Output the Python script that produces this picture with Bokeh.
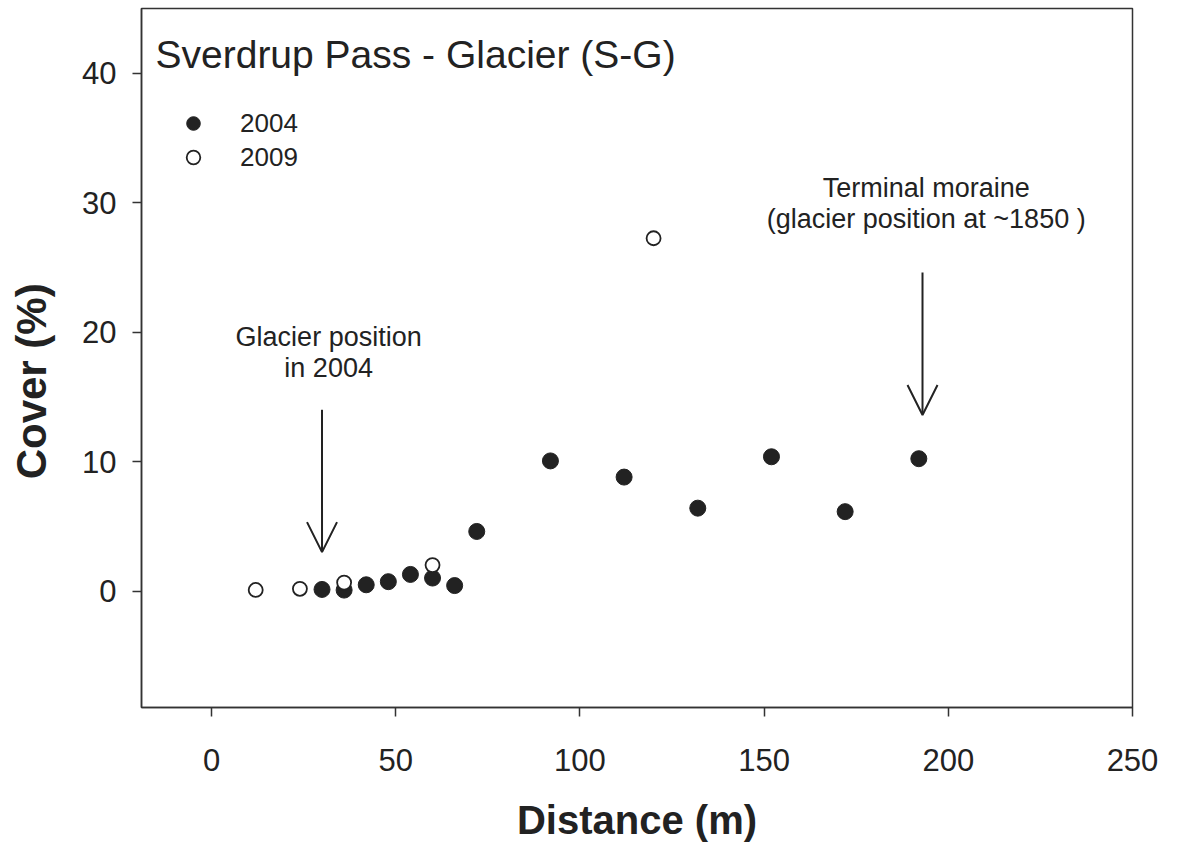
from bokeh.plotting import figure
from bokeh.models import Range1d, FixedTicker, Legend, LegendItem, Label, Arrow, OpenHead, ColumnDataSource
from bokeh.embed import file_html
from bokeh.resources import INLINE

# ---- data ----
dist_2004 = [30, 36, 42, 48, 54, 60, 66, 72, 92, 112, 132, 152, 172, 192]
cover_2004 = [0.12, 0.07, 0.48, 0.72, 1.28, 1.0, 0.42, 4.6, 10.05, 8.8, 6.4, 10.37, 6.13, 10.22]
dist_2009 = [12, 24, 36, 60, 120]
cover_2009 = [0.08, 0.17, 0.65, 2.0, 27.25]

x_ticks = [0, 50, 100, 150, 200, 250]
y_ticks = [0, 10, 20, 30, 40]

title_text = "Sverdrup Pass - Glacier (S-G)"
x_label = "Distance (m)"
y_label = "Cover (%)"
glacier_lines = ["Glacier position", "in 2004"]
moraine_lines = ["Terminal moraine", "(glacier position at ~1850 )"]

# annotation anchors (data units)
glacier_arrow = dict(x=30, y_start=14.0, y_end=3.0)
moraine_arrow = dict(x=193, y_start=24.6, y_end=13.6)
glacier_text_x = 31.8
glacier_text_y = [19.6, 17.2]
moraine_text_x = 194.0
moraine_text_y = [31.15, 28.7]

INK = "#222222"
FONT = "Liberation Sans"

p = figure(width=1177, height=844,
           x_range=Range1d(-19, 250), y_range=Range1d(-9, 45),
           output_backend="svg", toolbar_location=None,
           min_border_left=141, min_border_right=45,
           min_border_top=8, min_border_bottom=137)

p.grid.visible = False
p.outline_line_color = "#333333"
p.outline_line_width = 1.5
p.background_fill_color = "white"
p.border_fill_color = "white"

for ax in (p.xaxis[0], p.yaxis[0]):
    ax.axis_line_color = "#333333"
    ax.axis_line_width = 1.5
    ax.major_tick_line_color = "#333333"
    ax.major_tick_line_width = 1.5
    ax.major_tick_out = 9
    ax.major_tick_in = 0
    ax.minor_tick_line_color = None
    ax.major_label_text_font = FONT
    ax.major_label_text_font_size = "31px"
    ax.major_label_text_color = INK
    ax.axis_label_text_font = FONT
    ax.axis_label_text_font_style = "bold"
    ax.axis_label_text_color = INK

p.xaxis.ticker = FixedTicker(ticks=x_ticks)
p.yaxis.ticker = FixedTicker(ticks=y_ticks)
p.xaxis.axis_label = x_label
p.xaxis.axis_label_text_font_size = "40px"
p.xaxis.major_label_standoff = 32
p.xaxis.axis_label_standoff = 24
p.yaxis.major_label_standoff = 16
# trailing no-break spaces nudge the centred y title slightly below the frame centre
p.yaxis.axis_label = y_label + "\u00a0" * 4
p.yaxis.axis_label_text_font_size = "42px"
p.yaxis.axis_label_standoff = 24

src04 = ColumnDataSource(dict(x=dist_2004, y=cover_2004))
src09 = ColumnDataSource(dict(x=dist_2009, y=cover_2009))

r04 = p.scatter("x", "y", source=src04, size=16, marker="circle",
                fill_color=INK, line_color=INK, line_width=1)
r09 = p.scatter("x", "y", source=src09, size=14, marker="circle",
                fill_color="white", line_color=INK, line_width=1.8)

legend = Legend(items=[LegendItem(label="2004", renderers=[r04]),
                       LegendItem(label="2009", renderers=[r09])],
                location=(35, 533), padding=0, margin=0, spacing=0,
                glyph_width=34, glyph_height=34, label_standoff=30,
                label_text_font=FONT, label_text_font_size="26px",
                label_text_color=INK,
                border_line_color=None, background_fill_alpha=0)
p.add_layout(legend)

p.add_layout(Label(x=14, y=653, x_units="screen", y_units="screen",
                   text=title_text, text_font=FONT, text_font_size="39px",
                   text_color=INK, text_baseline="alphabetic", text_align="left"))

for t, yy in zip(glacier_lines, glacier_text_y):
    p.add_layout(Label(x=glacier_text_x, y=yy, text=t, text_font=FONT,
                       text_font_size="27px", text_color=INK,
                       text_align="center", text_baseline="alphabetic"))
for t, yy in zip(moraine_lines, moraine_text_y):
    p.add_layout(Label(x=moraine_text_x, y=yy, text=t, text_font=FONT,
                       text_font_size="27px", text_color=INK,
                       text_align="center", text_baseline="alphabetic"))

for a in (glacier_arrow, moraine_arrow):
    p.add_layout(Arrow(x_start=a["x"], y_start=a["y_start"], x_end=a["x"], y_end=a["y_end"],
                       line_color=INK, line_width=2,
                       end=OpenHead(size=30, line_color=INK, line_width=2)))

open("out.html", "w").write(file_html(p, INLINE))
